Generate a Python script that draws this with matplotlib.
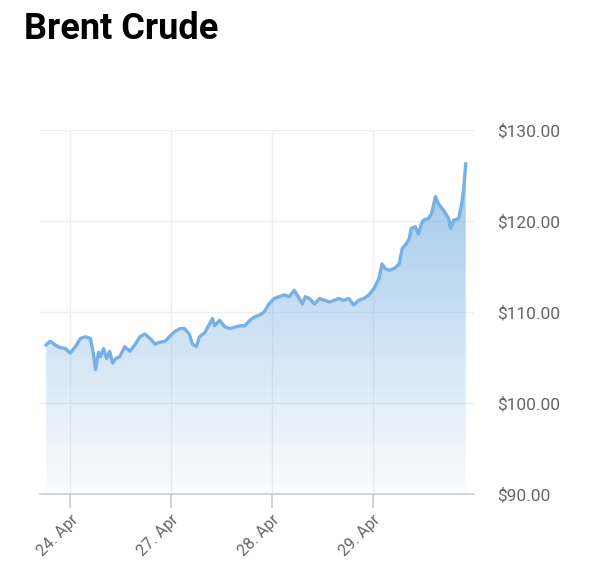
import numpy as np
import matplotlib
matplotlib.use("Agg")
import matplotlib.pyplot as plt
from matplotlib.colors import LinearSegmentedColormap

# Trading-day positions (0 = 24. Apr, weekends skipped) and prices
t = [-0.24, -0.20, -0.15, -0.10, -0.05, 0.00, 0.05, 0.10, 0.15, 0.20,
     0.23, 0.25, 0.28, 0.30, 0.33, 0.36, 0.39, 0.42, 0.45, 0.49,
     0.54, 0.59, 0.64, 0.69, 0.74, 0.79, 0.84, 0.89, 0.94, 0.99,
     1.04, 1.09, 1.13, 1.18, 1.21, 1.25, 1.28, 1.33, 1.38, 1.41,
     1.43, 1.48, 1.53, 1.58, 1.68, 1.73, 1.78, 1.83, 1.88, 1.92,
     1.97, 2.02, 2.07, 2.12, 2.17, 2.22, 2.27, 2.30, 2.33, 2.37,
     2.42, 2.47, 2.52, 2.57, 2.66, 2.71, 2.76, 2.81, 2.86, 2.91,
     2.96, 3.01, 3.06, 3.09, 3.12, 3.16, 3.21, 3.26, 3.29, 3.33,
     3.36, 3.38, 3.42, 3.45, 3.48, 3.50, 3.55, 3.58, 3.62, 3.65,
     3.70, 3.75, 3.77, 3.80, 3.85, 3.88, 3.90, 3.92]
price = [106.4, 106.8, 106.4, 106.1, 106.0, 105.5, 106.2, 107.1, 107.3, 107.1,
         105.4, 103.7, 105.6, 105.1, 106.0, 104.9, 105.7, 104.4, 104.9, 105.1,
         106.2, 105.7, 106.4, 107.3, 107.6, 107.1, 106.5, 106.7, 106.8, 107.4,
         107.9, 108.2, 108.2, 107.6, 106.5, 106.2, 107.3, 107.7, 108.7, 109.3,
         108.5, 109.1, 108.4, 108.2, 108.5, 108.5, 109.1, 109.5, 109.7, 110.0,
         110.9, 111.5, 111.7, 111.9, 111.7, 112.4, 111.5, 110.9, 111.7, 111.5,
         110.9, 111.5, 111.3, 111.1, 111.5, 111.3, 111.5, 110.8, 111.3, 111.5,
         111.9, 112.6, 113.7, 115.3, 114.8, 114.6, 114.8, 115.3, 117.0, 117.5,
         118.1, 119.2, 119.4, 118.6, 119.7, 120.1, 120.3, 120.8, 122.7, 121.9,
         121.2, 120.3, 119.2, 120.1, 120.3, 121.9, 123.6, 126.3]

tick_pos = [0, 1, 2, 3]
tick_labels = ["24. Apr", "27. Apr", "28. Apr", "29. Apr"]
y_ticks = [90, 100, 110, 120, 130]

line_color = "#78b0e4"
plt.rcParams["font.family"] = ["Roboto", "DejaVu Sans"]

fig = plt.figure(figsize=(6.0, 5.66), dpi=100)
ax = fig.add_axes([0.0667, 0.127, 0.723, 0.643])

ax.set_xlim(-0.30, 4.0)
ax.set_ylim(90, 130)

# gradient fill under the line
cmap = LinearSegmentedColormap.from_list(
    "grad", [(0.47, 0.69, 0.89, 0.03), (0.47, 0.69, 0.89, 0.72)])
grad = np.linspace(0, 1, 256).reshape(-1, 1)
img = ax.imshow(grad, cmap=cmap, aspect="auto", origin="lower",
                extent=[-0.30, 4.0, 90, 127], zorder=1)
poly = ax.fill_between(t, price, 90, color="none", lw=0)
clip = poly.get_paths()[0]
img.set_clip_path(clip, transform=ax.transData)

ax.plot(t, price, color=line_color, lw=2.4, zorder=3, solid_joinstyle="round")

# grid
for y in y_ticks[1:]:
    ax.axhline(y, color="#eeeeee", lw=1, zorder=0)
for x in tick_pos:
    ax.axvline(x, color="#eeeeee", lw=1, zorder=0)

for s in ["top", "left", "right"]:
    ax.spines[s].set_visible(False)
ax.spines["bottom"].set_color("#cccccc")
ax.spines["bottom"].set_linewidth(1.2)

ax.yaxis.tick_right()
ax.set_yticks(y_ticks)
ax.set_yticklabels(["$%.2f" % v for v in y_ticks], fontsize=12.5, color="#666666")
ax.tick_params(axis="y", length=0, pad=17)

ax.set_xticks(tick_pos)
ax.set_xticklabels(tick_labels, rotation=45, ha="right", rotation_mode="anchor",
                   fontsize=11.5, color="#666666")
ax.tick_params(axis="x", length=10, width=1.2, color="#cccccc", pad=3)

fig.text(0.040, 0.948, "Brent Crude", fontsize=26, fontweight="bold",
         color="black", va="center", ha="left")

fig.savefig("out.png", dpi=100, facecolor="white")
